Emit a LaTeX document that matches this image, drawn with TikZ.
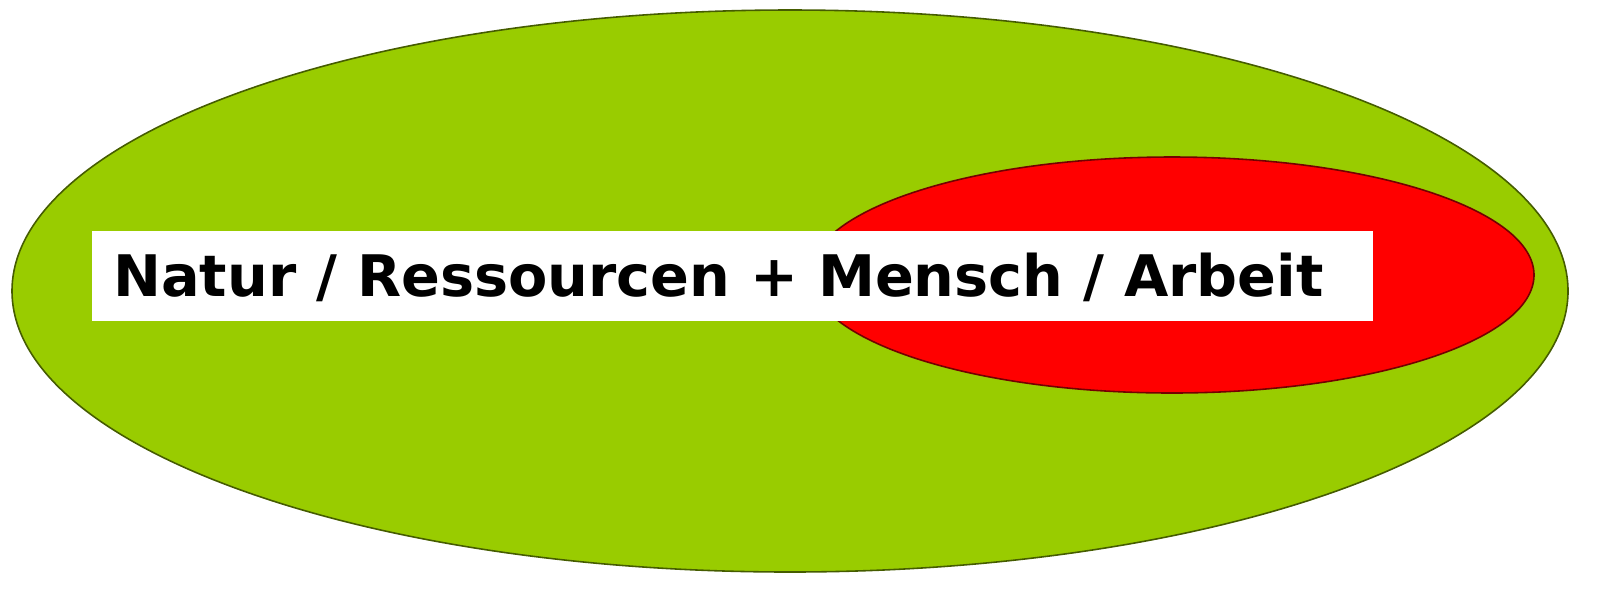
\documentclass[tikz,border=0pt]{standalone}
\usepackage{fontspec}
\setmainfont{DejaVu Sans}
\usepackage{tikz}
\definecolor{naturgreen}{RGB}{153,204,0}
\definecolor{menschred}{RGB}{255,0,0}

\begin{document}
\begin{tikzpicture}[x=.02cm, y=-.02cm]
	\useasboundingbox (0,0) rectangle (1621,593);
	\draw[draw=black!55!naturgreen, line width=.9pt, fill=naturgreen] (790,291) ellipse [x radius=778, y radius=281];
	\draw[draw=black!55!menschred, line width=.9pt, fill=menschred] (1172,275) ellipse [x radius=362, y radius=118];
	\draw[draw=none, fill=white] (92,231) rectangle (1373,321);
	\node[anchor=base west, inner sep=0pt, font=\bfseries\fontsize{32.6}{33}\selectfont] (label) at (113,296) {Natur / Ressourcen + Mensch / Arbeit};
\end{tikzpicture}
\end{document}
